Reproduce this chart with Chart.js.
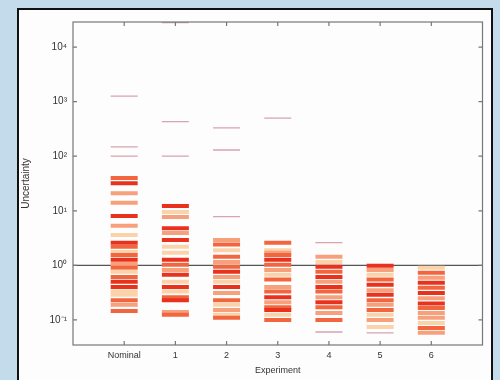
<!DOCTYPE html>
<html>
<head>
<meta charset="utf-8">
<script src="https://cdn.jsdelivr.net/npm/chart.js@4/dist/chart.umd.min.js"></script>
<style>
  html, body { margin: 0; padding: 0; }
  body { width: 500px; height: 380px; background: #c4dbec; position: relative; overflow: hidden; }
  #panel { position: absolute; left: 17px; top: 8px; width: 472px; height: 400px; background: #fdfdfd; border: 2px solid #111; }
  #wrap { position: absolute; left: 0; top: 0; width: 500px; height: 380px; }
</style>
</head>
<body>
<div id="panel"></div>
<div id="wrap"><canvas id="chart" width="500" height="380"></canvas></div>
<script>
// Categorias e valores
const experiments = ['Nominal', '1', '2', '3', '4', '5', '6'];
const yTickValues = [0.1, 1, 10, 100, 1000, 10000];
const yTickLabels = ['10\u207B\u00B9', '10\u2070', '10\u00B9', '10\u00B2', '10\u00B3', '10\u2074'];
const threshold = 1;

const nominalValues = [1260, 148, 100, 40, 32, 21, 14, 8.0, 5.3, 3.6, 2.6, 2.2, 1.76, 1.55, 1.26, 1.06, 0.90, 0.76, 0.61, 0.50, 0.40, 0.33, 0.29, 0.23, 0.19, 0.146];
const nominalDensity = [0, 0, 0, 3, 4, 2, 2, 4, 2, 1, 4, 3, 1, 3, 4, 2, 3, 1, 3, 4, 4, 1, 1, 3, 2, 3];
const exp1Values = [28000, 430, 100, 12.2, 9.5, 7.7, 4.8, 3.9, 2.9, 2.2, 1.7, 1.26, 1.02, 0.82, 0.67, 0.50, 0.40, 0.33, 0.26, 0.23, 0.14, 0.124];
const exp1Density = [0, 0, 0, 4, 1, 2, 4, 2, 4, 1, 1, 4, 3, 2, 4, 1, 4, 1, 3, 4, 2, 3];
const exp2Values = [330, 130, 7.8, 2.9, 2.4, 1.9, 1.43, 1.15, 0.94, 0.76, 0.61, 0.50, 0.40, 0.31, 0.23, 0.19, 0.152, 0.124, 0.109];
const exp2Density = [0, 0, 0, 2, 3, 1, 3, 2, 3, 4, 2, 1, 4, 2, 3, 1, 2, 1, 3];
const exp3Values = [500, 2.6, 1.9, 1.7, 1.55, 1.26, 1.02, 0.82, 0.67, 0.55, 0.40, 0.33, 0.26, 0.21, 0.17, 0.152, 0.124, 0.10];
const exp3Density = [0, 3, 1, 2, 3, 4, 3, 2, 1, 3, 2, 3, 4, 2, 3, 4, 1, 3];
const exp4Values = [2.6, 1.43, 1.15, 0.94, 0.76, 0.61, 0.50, 0.40, 0.33, 0.26, 0.21, 0.17, 0.134, 0.10, 0.060];
const exp4Density = [0, 2, 1, 4, 3, 4, 2, 4, 3, 2, 4, 3, 2, 3, 0];
const exp5Values = [0.98, 0.82, 0.67, 0.55, 0.44, 0.35, 0.29, 0.23, 0.19, 0.152, 0.124, 0.10, 0.074, 0.058];
const exp5Density = [4, 2, 1, 3, 4, 2, 4, 3, 2, 3, 1, 2, 1, 0];
const exp6Values = [0.90, 0.73, 0.59, 0.48, 0.39, 0.31, 0.25, 0.20, 0.166, 0.134, 0.109, 0.088, 0.071, 0.058];
const exp6Density = [1, 3, 2, 4, 3, 4, 2, 4, 3, 2, 2, 1, 3, 2];

const columns = [
    [nominalValues, nominalDensity],
    [exp1Values, exp1Density],
    [exp2Values, exp2Density],
    [exp3Values, exp3Density],
    [exp4Values, exp4Density],
    [exp5Values, exp5Density],
    [exp6Values, exp6Density]
];

// Cores das faixas
const shadeColors = ['rgba(205,140,155,0.8)', '#fbd3ab', '#f7a07c', '#f1663e', '#e8321e'];

const datasets = columns.map(function(col, i) {
    const vals = col[0], dens = col[1];
    return {
        type: 'scatter',
        data: vals.map(v => ({ x: i, y: v })),
        pointStyle: 'line',
        pointRadius: 13.5,
        pointHoverRadius: 13.5,
        pointBorderWidth: dens.map(d => d === 0 ? 1.3 : 4),
        pointBorderColor: dens.map(d => shadeColors[d]),
        pointBackgroundColor: dens.map(d => shadeColors[d])
    };
});

// Linha de referência
datasets.push({
    type: 'line',
    data: [{ x: -1, y: threshold }, { x: 7, y: threshold }],
    borderColor: '#555',
    borderWidth: 1.3,
    pointRadius: 0,
    fill: false
});

// Moldura e marcas internas
const framePlugin = {
    id: 'frame',
    afterDatasetsDraw(chart) {
        const ctx = chart.ctx, a = chart.chartArea;
        const xs = chart.scales.x, ys = chart.scales.y;
        ctx.save();
        ctx.strokeStyle = '#777';
        ctx.lineWidth = 1.2;
        ctx.strokeRect(a.left, a.top, a.right - a.left, a.bottom - a.top);
        ctx.beginPath();
        yTickValues.forEach(v => {
            const py = ys.getPixelForValue(v);
            ctx.moveTo(a.left, py); ctx.lineTo(a.left + 4, py);
            ctx.moveTo(a.right, py); ctx.lineTo(a.right - 4, py);
        });
        experiments.forEach((e, i) => {
            const px = xs.getPixelForValue(i);
            ctx.moveTo(px, a.bottom); ctx.lineTo(px, a.bottom - 4);
            ctx.moveTo(px, a.top); ctx.lineTo(px, a.top + 4);
        });
        ctx.stroke();
        ctx.restore();
    }
};

const ctx = document.getElementById('chart').getContext('2d');
new Chart(ctx, {
    data: { datasets: datasets },
    options: {
        responsive: false,
        animation: false,
        events: [],
        layout: { padding: { left: 20, top: 22, right: 16, bottom: 4 } },
        plugins: { legend: { display: false }, tooltip: { enabled: false } },
        scales: {
            x: {
                type: 'linear',
                min: -1,
                max: 7,
                grid: { display: false, drawTicks: false },
                border: { display: false },
                afterBuildTicks: s => { s.ticks = experiments.map((e, i) => ({ value: i })); },
                afterFit: s => { s.height = 31; },
                ticks: {
                    color: '#333',
                    font: { family: 'Liberation Sans', size: 9 },
                    padding: 5,
                    maxRotation: 0,
                    callback: v => experiments[v]
                },
                title: {
                    display: true,
                    text: 'Experiment',
                    color: '#333',
                    font: { family: 'Liberation Sans', size: 9 },
                    padding: { top: 0, bottom: 0 }
                }
            },
            y: {
                type: 'logarithmic',
                min: Math.pow(10, -1.46),
                max: Math.pow(10, 4.46),
                grid: { display: false, drawTicks: false },
                border: { display: false },
                afterBuildTicks: s => { s.ticks = yTickValues.map(v => ({ value: v })); },
                afterFit: s => { s.width = 53; },
                ticks: {
                    color: '#333',
                    font: { family: 'Liberation Sans', size: 10 },
                    padding: 6,
                    callback: v => yTickLabels[yTickValues.indexOf(v)]
                },
                title: {
                    display: true,
                    text: 'Uncertainty',
                    color: '#333',
                    font: { family: 'Liberation Sans', size: 10 },
                    padding: { top: 0, bottom: 2 }
                }
            }
        }
    },
    plugins: [framePlugin]
});
</script>
</body>
</html>
